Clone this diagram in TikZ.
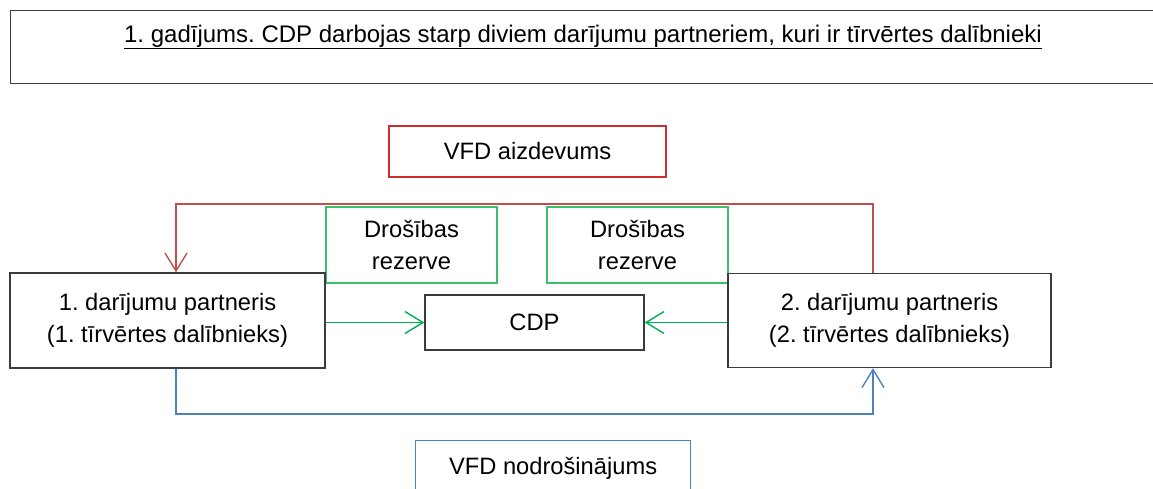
\documentclass[tikz,border=0pt]{standalone}
\usepackage{fontspec}
\setmainfont{Liberation Sans}
\usetikzlibrary{arrows.meta}
\definecolor{redline}{RGB}{192,80,77}
\definecolor{redbox}{RGB}{205,45,45}
\definecolor{greenline}{RGB}{0,176,80}
\definecolor{greenbox}{RGB}{60,190,110}
\definecolor{blueline}{RGB}{79,129,189}
\definecolor{darkbox}{RGB}{60,60,60}
\tikzset{
  box/.style={draw=darkbox, line width=1.4pt, fill=white, inner sep=0pt, align=center,
    font=\fontsize{23.7}{32}\selectfont},
  redbox/.style={box, draw=redbox, line width=1.2pt},
  greenbox/.style={box, draw=greenbox, line width=1.2pt},
  bluebox/.style={box, draw=blueline, line width=1.2pt},
  barb/.style={-{Straight Barb[length=18pt,width=22pt,line width=1.4pt]}},
  redconn/.style={draw=redline, line width=1.5pt, barb},
  greenconn/.style={draw=greenline, line width=1.5pt, barb},
  blueconn/.style={draw=blueline, line width=1.5pt, barb},
}
\begin{document}
\frenchspacing
\begin{tikzpicture}[x=1pt,y=-1pt]
\useasboundingbox (0,0) rectangle (1153,488);
\clip (0,0) rectangle (1153,488);
% title
\node[box, minimum width=1170pt, minimum height=73pt, anchor=north west] (title) at (10,10) {};
\node[font=\fontsize{24}{30}\selectfont, inner sep=0pt] (titletext) at (583,37) {\underline{1. gadījums. CDP darbojas starp diviem darījumu partneriem, kuri ir tīrvērtes dalībnieki}};
% boxes
\node[redbox, minimum width=277pt, minimum height=51pt] (vfda) at (527.5,151.5) {VFD aizdevums};
\node[greenbox, minimum width=171pt, minimum height=76pt] (dr1) at (411.5,245) {Drošības\\rezerve};
\node[greenbox, minimum width=181pt, minimum height=76pt] (dr2) at (637.5,245) {Drošības\\rezerve};
\node[box, minimum width=315pt, minimum height=95pt] (p1) at (167.5,320.5) {1. darījumu partneris\\(1. tīrvērtes dalībnieks)};
\node[box, minimum width=323pt, minimum height=94pt] (p2) at (889.5,320.5) {2. darījumu partneris\\(2. tīrvērtes dalībnieks)};
\node[box, minimum width=219pt, minimum height=55pt] (cdp) at (534.5,322.5) {CDP};
\node[bluebox, minimum width=275pt, minimum height=56pt, anchor=north west] (vfdn) at (415,440) {VFD nodrošinājums};
% routing points
\coordinate (rt) at (873,204);
\coordinate (lt) at (176,204);
\coordinate (lb) at (176,414);
\coordinate (rb) at (873,414);
% connectors
\draw[redconn] (rt |- p2.north) -- (rt) -- (lt) -- (lt |- p1.north);
\draw[blueconn] (lb |- p1.south) -- (lb) -- (rb) -- (rb |- p2.south);
\draw[greenconn] (p1.east |- cdp.west) -- (cdp.west);
\draw[greenconn] (p2.west |- cdp.east) -- (cdp.east);
\end{tikzpicture}
\end{document}
